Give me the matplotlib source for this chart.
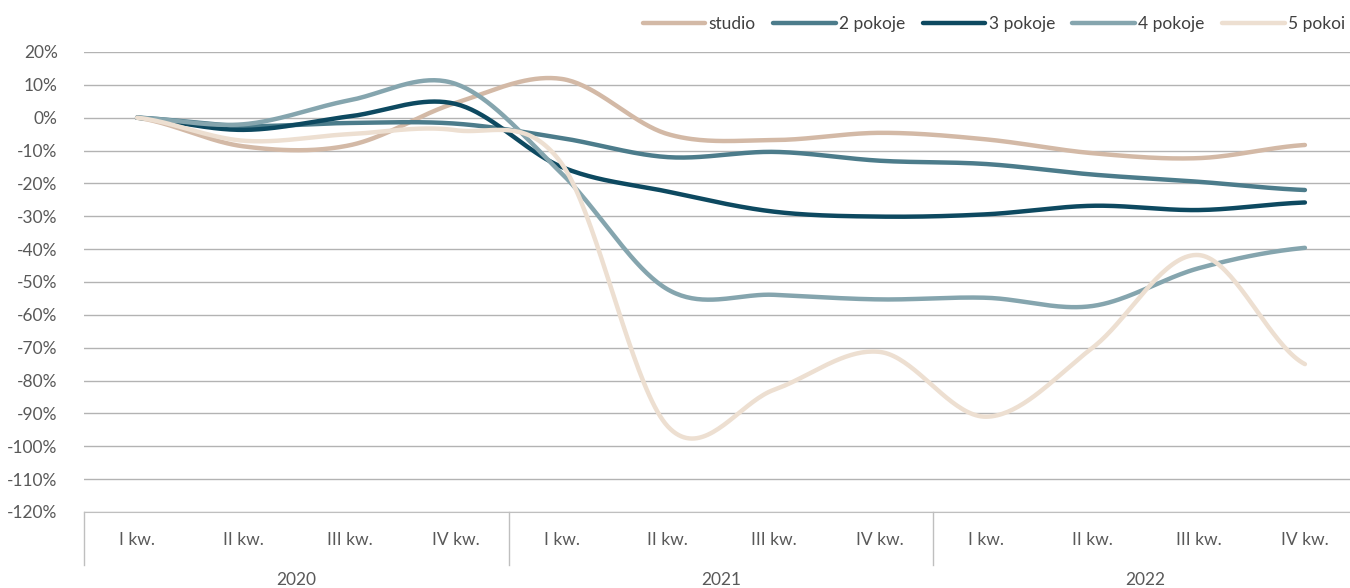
import numpy as np
import matplotlib.pyplot as plt

# quarterly change vs I kw. 2020 (%)
quarters = ['I kw.', 'II kw.', 'III kw.', 'IV kw.'] * 3
years = ['2020', '2021', '2022']
series_names = ['studio', '2 pokoje', '3 pokoje', '4 pokoje', '5 pokoi']
studio = [0, -8.7, -8.4, 4.5, 11.8, -5.0, -6.8, -4.6, -6.6, -10.8, -12.3, -8.3]
pok2 = [0, -2.5, -1.6, -1.8, -6.2, -12.0, -10.4, -13.1, -14.1, -17.3, -19.5, -22.0]
pok3 = [0, -3.7, 0.4, 4.2, -15.0, -22.5, -28.6, -30.1, -29.4, -26.8, -28.1, -25.8]
pok4 = [0, -2.0, 5.3, 10.3, -17.0, -52.3, -53.9, -55.3, -54.8, -57.3, -45.8, -39.6]
pok5 = [0, -7.0, -5.0, -3.8, -14.0, -94.0, -82.8, -71.3, -91.0, -70.0, -41.8, -75.0]
colors = ['#D3B9A6', '#4C7C8B', '#0D4960', '#85A5AE', '#EDDFD1']


def smooth(y, n=40):
    # catmull-rom spline through the points (like excel's smoothed line)
    y = np.asarray(y, float)
    x = np.arange(len(y), dtype=float)
    px = np.concatenate([[2 * x[0] - x[1]], x, [2 * x[-1] - x[-2]]])
    py = np.concatenate([[y[0]], y, [y[-1]]])
    xs, ys = [], []
    for i in range(1, len(px) - 2):
        t = np.linspace(0, 1, n, endpoint=False)
        for p, out in ((px, xs), (py, ys)):
            p0, p1, p2, p3 = p[i - 1], p[i], p[i + 1], p[i + 2]
            out.append(0.5 * (2 * p1 + (-p0 + p2) * t
                              + (2 * p0 - 5 * p1 + 4 * p2 - p3) * t ** 2
                              + (-p0 + 3 * p1 - 3 * p2 + p3) * t ** 3))
    xs.append([x[-1]])
    ys.append([y[-1]])
    return np.concatenate(xs), np.concatenate(ys)


plt.rcParams['font.family'] = ['Lato', 'DejaVu Sans']
fig = plt.figure(figsize=(13.5, 5.88), dpi=100)
ax = fig.add_axes([84 / 1350, 1 - 512 / 588, 1274 / 1350, 460 / 588])

for name, vals, c in zip(series_names, [studio, pok2, pok3, pok4, pok5], colors):
    sx, sy = smooth(vals)
    ax.plot(sx, sy, color=c, lw=3.2, solid_capstyle='round', label=name)

ax.set_xlim(-0.5, 11.5)
ax.set_ylim(-120, 20)
ax.set_yticks(np.arange(-120, 21, 10))
ax.set_yticklabels([f'{v}%' for v in range(-120, 21, 10)])
ax.grid(axis='y', color='#B3B3B3', lw=1)
ax.set_axisbelow(True)
for s in ['top', 'right', 'left']:
    ax.spines[s].set_visible(False)
ax.spines['bottom'].set_color('#BFBFBF')
ax.tick_params(axis='y', length=0, labelsize=12.5, labelcolor='#595959', pad=19)
ax.set_xticks(range(12))
ax.set_xticklabels([])
ax.tick_params(axis='x', length=0)

# two-level category axis
for i, q in enumerate(quarters):
    ax.text(i, -0.06, q, transform=ax.get_xaxis_transform(), ha='center', va='center',
            fontsize=12.5, color='#595959')
for k, yr in enumerate(years):
    ax.text(4 * k + 1.5, -0.147, yr, transform=ax.get_xaxis_transform(), ha='center',
            va='center', fontsize=12.5, color='#595959')
for b in [-0.5, 3.5, 7.5]:
    ax.plot([b, b], [0, -0.115], transform=ax.get_xaxis_transform(), color='#BFBFBF',
            lw=1, clip_on=False)

fig.legend(loc='upper right', bbox_to_anchor=(1.008, 1.0), ncol=5, frameon=False,
           fontsize=12.5, handlelength=3.6, handletextpad=0.2, columnspacing=1.0,
           labelcolor='#404040')

fig.savefig('out.png', dpi=100)
